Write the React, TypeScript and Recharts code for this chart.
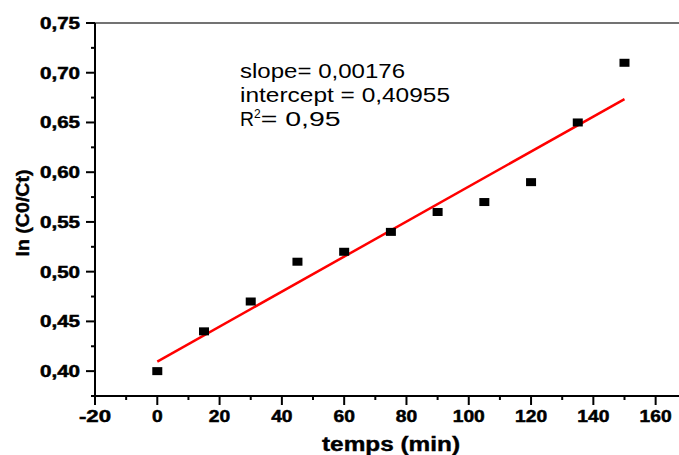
import React from 'react';
import { ComposedChart, Scatter, Line, XAxis, YAxis, ReferenceLine, Customized } from 'recharts';

const timeMin = [0, 15, 30, 45, 60, 75, 90, 105, 120, 135, 150];
const lnC0Ct = [0.40, 0.44, 0.47, 0.51, 0.52, 0.54, 0.56, 0.57, 0.59, 0.65, 0.71];
const fitX = [0, 150];
const fitY = [0.40955, 0.67355];
const xTicks = [-20, -10, 0, 10, 20, 30, 40, 50, 60, 70, 80, 90, 100, 110, 120, 130, 140, 150, 160];
const yTicks = [0.375, 0.4, 0.425, 0.45, 0.475, 0.5, 0.525, 0.55, 0.575, 0.6, 0.625, 0.65, 0.675, 0.7, 0.725, 0.75];
const annotation = ['slope= 0,00176', 'intercept = 0,40955', '0,95'];

const points = timeMin.map((x, i) => ({ x, y: lnC0Ct[i] }));
const fit = fitX.map((x, i) => ({ x, y: fitY[i] }));

const FONT = '"Liberation Sans", Arial, Helvetica, sans-serif';

const XTick = (props: any) => {
  const { x, y, payload } = props;
  const v = payload.value;
  const major = Math.abs(v % 20) < 1e-9;
  const label = String(v);
  return (
    <g>
      <line x1={x} x2={x} y1={y} y2={y + (major ? 9 : 4)} stroke="#000" strokeWidth={2} />
      {major && (
        <text x={x} y={y + 26} textAnchor="middle" fontFamily={FONT} fontWeight="bold" fontSize={17}
          stroke="#000" strokeWidth={0.5} fill="#000" textLength={label.length * 10.7} lengthAdjust="spacingAndGlyphs">
          {label}
        </text>
      )}
    </g>
  );
};

const YTick = (props: any) => {
  const { x, y, payload } = props;
  const v = payload.value;
  const major = Math.round(v * 1000) % 50 === 0;
  return (
    <g>
      <line x1={x} x2={x - (major ? 9 : 4)} y1={y} y2={y} stroke="#000" strokeWidth={2} />
      {major && (
        <text x={x - 15} y={y + 6} textAnchor="end" fontFamily={FONT} fontWeight="bold" fontSize={16}
          stroke="#000" strokeWidth={0.5} fill="#000" textLength={40} lengthAdjust="spacingAndGlyphs">
          {v.toFixed(2).replace('.', ',')}
        </text>
      )}
    </g>
  );
};

const SquareMarker = (props: any) => {
  const { cx, cy } = props;
  return <rect x={cx - 5} y={cy - 4} width={10} height={8} fill="#000" />;
};

const Overlay = () => (
  <g fontFamily={FONT} fill="#000">
    <text x={240} y={78} fontSize={20} textLength={165} lengthAdjust="spacingAndGlyphs">{annotation[0]}</text>
    <text x={240} y={102} fontSize={20} textLength={210} lengthAdjust="spacingAndGlyphs">{annotation[1]}</text>
    <text x={240} y={126} fontSize={20}>
      <tspan textLength={14} lengthAdjust="spacingAndGlyphs">R</tspan>
      <tspan fontSize={12} dy={-8}>2</tspan>
      <tspan dy={8} textLength={80} lengthAdjust="spacingAndGlyphs">= {annotation[2]}</tspan>
    </text>
    <text x={391} y={451} textAnchor="middle" fontWeight="bold" fontSize={20} stroke="#000" strokeWidth={0.4}
      textLength={138} lengthAdjust="spacingAndGlyphs">temps (min)</text>
    <text transform="translate(29,213) rotate(-90)" textAnchor="middle" fontWeight="bold" fontSize={19}
      stroke="#000" strokeWidth={0.4} textLength={87} lengthAdjust="spacingAndGlyphs">ln (C0/Ct)</text>
  </g>
);

export default function App() {
  return (
    <div style={{ position: 'absolute', left: 0, top: 0, width: 679, height: 455, background: '#fff' }}>
      <ComposedChart width={679} height={455} margin={{ top: 23, right: 0, bottom: 0, left: 0 }}>
        <XAxis
          type="number"
          dataKey="x"
          domain={[-20, 167.5]}
          ticks={xTicks}
          allowDataOverflow
          height={59}
          tickSize={0}
          tickMargin={0}
          tickLine={false}
          axisLine={{ stroke: '#000', strokeWidth: 2 }}
          tick={<XTick />}
          interval={0}
        />
        <YAxis
          type="number"
          dataKey="y"
          domain={[0.375, 0.75]}
          ticks={yTicks}
          allowDataOverflow
          width={95}
          tickSize={0}
          tickMargin={0}
          tickLine={false}
          axisLine={{ stroke: '#000', strokeWidth: 2 }}
          tick={<YTick />}
          interval={0}
        />
        <ReferenceLine y={0.75} stroke="#444" strokeWidth={1.5} />
        <Line data={fit} dataKey="y" stroke="#ff0000" strokeWidth={2.5} dot={false} isAnimationActive={false} />
        <Scatter data={points} dataKey="y" shape={<SquareMarker />} isAnimationActive={false} />
        <Customized component={<Overlay />} />
      </ComposedChart>
    </div>
  );
}
